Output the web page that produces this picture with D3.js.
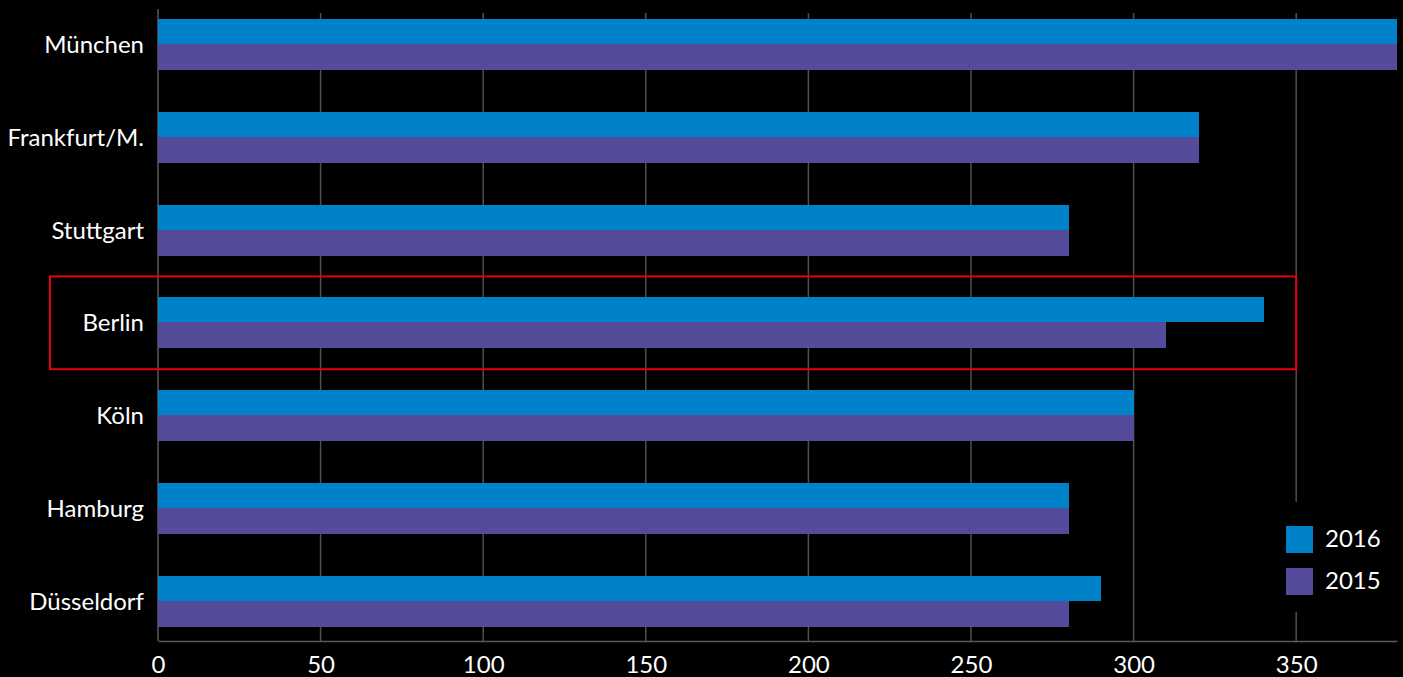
<!DOCTYPE html>
<html>
<head>
<meta charset="utf-8">
<script src="https://cdn.jsdelivr.net/npm/d3@7"></script>
<style>
  html, body { margin: 0; padding: 0; background: #000; }
  svg { display: block; }
</style>
</head>
<body>
<svg id="chart" width="1403" height="677"></svg>
<script>
// === DATA ===
const cities = ["München", "Frankfurt/M.", "Stuttgart", "Berlin", "Köln", "Hamburg", "Düsseldorf"];
const values2016 = [381, 320, 280, 340, 300, 280, 290];
const values2015 = [381, 320, 280, 310, 300, 280, 280];
const seriesNames = ["2016", "2015"];
const seriesColors = ["#0082ca", "#544c9a"];
const xTicks = [0, 50, 100, 150, 200, 250, 300, 350];
const highlightCity = "Berlin";

// === SETUP ===
const width = 1403, height = 677;
const plotLeft = 158, plotRight = 1397;
const plotTop = 10, plotBottom = 641;
const font = "Lato, 'Open Sans', sans-serif";

const svg = d3.select("#chart");
svg.append("rect").attr("width", width).attr("height", height).attr("fill", "#000");

const x = d3.scaleLinear().domain([0, 381]).range([plotLeft, plotRight]);

// bands centred on each row (step ~92.8px, bar pair ~50.7px)
const y = d3.scaleBand()
    .domain(cities)
    .range([-2.1, 647.7])
    .paddingInner(0.454)
    .paddingOuter(0.227);

const ySeries = d3.scaleBand()
    .domain(seriesNames)
    .range([0, y.bandwidth()]);

// gridlines
svg.append("g")
    .selectAll("line")
    .data(xTicks.filter(d => d > 0))
    .join("line")
    .attr("x1", d => x(d)).attr("x2", d => x(d))
    .attr("y1", plotTop + 3).attr("y2", plotBottom)
    .attr("stroke", "#4f4f4f")
    .attr("stroke-width", 1.5);

// left axis line
svg.append("line")
    .attr("x1", plotLeft).attr("x2", plotLeft)
    .attr("y1", plotTop - 1).attr("y2", plotBottom)
    .attr("stroke", "#5a5a5a").attr("stroke-width", 1.5);

// bars
const rows = cities.map((c, i) => ({ city: c, vals: [values2016[i], values2015[i]] }));
const rowG = svg.append("g")
    .attr("shape-rendering", "crispEdges")
    .selectAll("g")
    .data(rows)
    .join("g")
    .attr("transform", d => "translate(0," + Math.round(y(d.city)) + ")");

rowG.selectAll("rect")
    .data(d => d.vals.map((v, j) => ({ series: seriesNames[j], value: v, color: seriesColors[j] })))
    .join("rect")
    .attr("x", x(0))
    .attr("y", d => Math.round(ySeries(d.series)))
    .attr("width", d => x(d.value) - x(0))
    .attr("height", d => Math.round(ySeries(d.series) + ySeries.bandwidth()) - Math.round(ySeries(d.series)))
    .attr("fill", d => d.color);

// bottom axis
const xAxis = d3.axisBottom(x).tickValues(xTicks).tickSize(0).tickPadding(0);
const gx = svg.append("g")
    .attr("transform", "translate(0," + plotBottom + ")")
    .call(xAxis);
gx.select(".domain").attr("stroke", "#5a5a5a").attr("stroke-width", 1.5);
gx.selectAll("text")
    .attr("fill", "#fff")
    .attr("font-family", font)
    .attr("font-size", 24)
    .attr("dy", 0)
    .attr("y", 32);

// category labels
const yAxis = d3.axisLeft(y).tickSize(0).tickPadding(14);
const gy = svg.append("g")
    .attr("transform", "translate(" + plotLeft + ",0)")
    .call(yAxis);
gy.select(".domain").remove();
gy.selectAll("text")
    .attr("fill", "#fff")
    .attr("font-family", font)
    .attr("font-size", 24)
    .attr("dy", "0.36em");

// highlight box around Berlin
const step = y.step();
svg.append("rect")
    .attr("x", 50)
    .attr("y", y(highlightCity) + y.bandwidth() / 2 - step / 2)
    .attr("width", x(350) - 50)
    .attr("height", step)
    .attr("fill", "none")
    .attr("stroke", "#e3000f")
    .attr("stroke-width", 2);

// legend
const legend = svg.append("g");
legend.append("rect")
    .attr("x", 1270).attr("y", 502)
    .attr("width", 130).attr("height", 110)
    .attr("fill", "#000");
const li = legend.selectAll("g.item")
    .data(seriesNames)
    .join("g")
    .attr("class", "item")
    .attr("transform", (d, i) => "translate(1286," + (526 + i * 42) + ")");
li.append("rect")
    .attr("width", 27).attr("height", 27)
    .attr("fill", (d, i) => seriesColors[i]);
li.append("text")
    .attr("x", 39).attr("y", 21)
    .attr("fill", "#fff")
    .attr("font-family", font)
    .attr("font-size", 24)
    .text(d => d);
</script>
</body>
</html>
